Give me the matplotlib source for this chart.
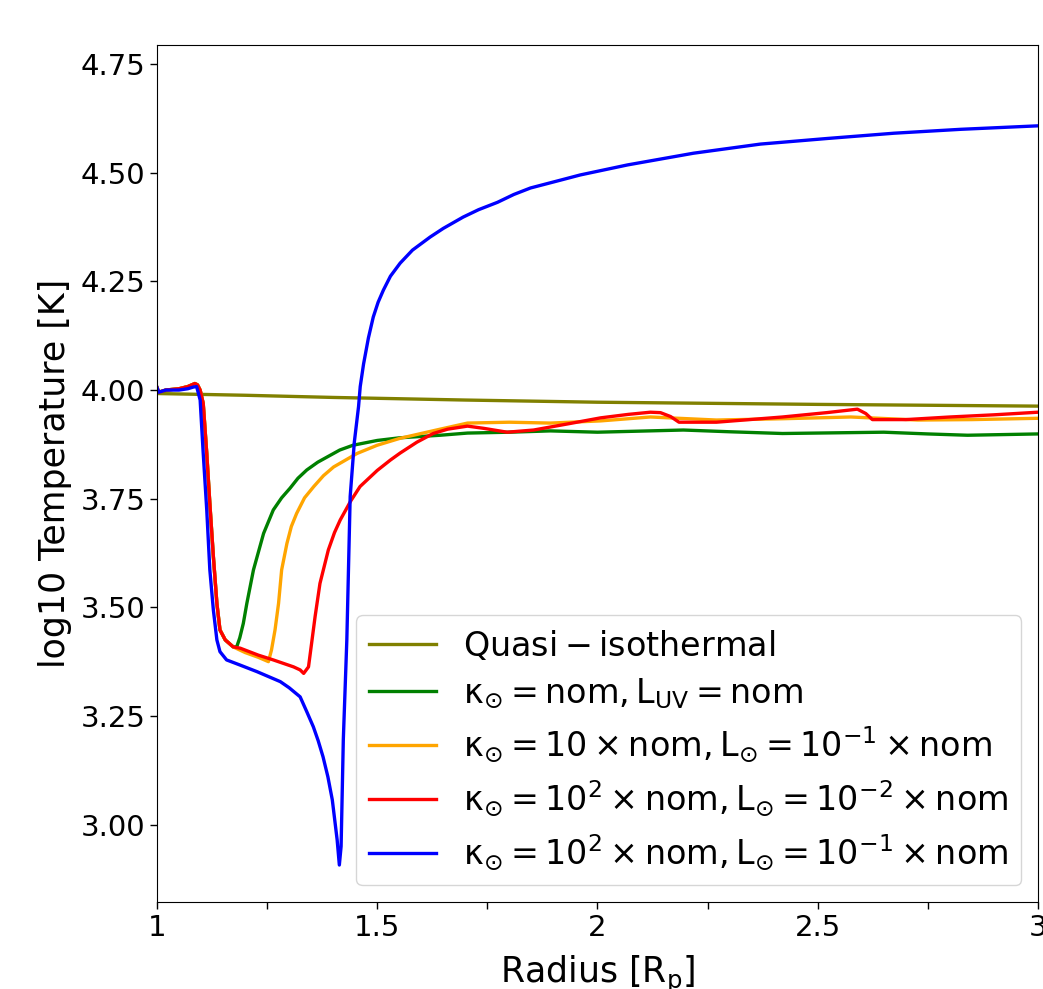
import numpy as np
import matplotlib
matplotlib.use('Agg')
import matplotlib.pyplot as plt

# ---- data ----
r_iso = [1.0, 1.2, 1.4, 1.7, 2.0, 2.5, 3.0]
t_iso = [3.992, 3.988, 3.983, 3.977, 3.972, 3.967, 3.963]

# common start (green / orange / red)
r_head = [1.0, 1.004, 1.02, 1.05, 1.07, 1.086, 1.092, 1.098, 1.105, 1.113, 1.12,
          1.128, 1.136, 1.143, 1.155, 1.173]
t_head = [4.006, 3.995, 4.0, 4.003, 4.008, 4.015, 4.012, 4.0, 3.969, 3.854, 3.739,
          3.617, 3.509, 3.448, 3.425, 3.409]

r_green = r_head + [1.181, 1.188, 1.196, 1.204, 1.219, 1.242, 1.264, 1.283, 1.302, 1.32,
                    1.34, 1.365, 1.39, 1.415, 1.445, 1.5, 1.55, 1.643, 1.705, 1.8, 1.893,
                    2.0, 2.195, 2.3, 2.42, 2.65, 2.75, 2.84, 3.0]
t_green = t_head + [3.409, 3.43, 3.463, 3.509, 3.586, 3.67, 3.724, 3.752, 3.774, 3.797,
                    3.816, 3.834, 3.848, 3.862, 3.873, 3.884, 3.89, 3.896, 3.901, 3.903,
                    3.906, 3.903, 3.908, 3.904, 3.900, 3.903, 3.899, 3.896, 3.899]

r_orange = r_head + [1.2, 1.23, 1.253, 1.26, 1.268, 1.276, 1.283, 1.295, 1.305, 1.317,
                     1.335, 1.356, 1.378, 1.401, 1.454, 1.5, 1.552, 1.643, 1.705, 1.8,
                     1.893, 2.007, 2.12, 2.27, 2.42, 2.575, 2.727, 2.85, 3.0]
t_orange = t_head + [3.396, 3.385, 3.375, 3.402, 3.448, 3.509, 3.586, 3.647, 3.686, 3.716,
                     3.752, 3.778, 3.803, 3.823, 3.854, 3.873, 3.889, 3.91, 3.924, 3.926,
                     3.924, 3.929, 3.938, 3.931, 3.934, 3.938, 3.931, 3.932, 3.935]

r_red = r_head + [1.189, 1.23, 1.264, 1.31, 1.325, 1.333, 1.344, 1.351, 1.359, 1.37,
                  1.389, 1.403, 1.416, 1.44, 1.461, 1.5, 1.53, 1.552, 1.59, 1.627, 1.66,
                  1.705, 1.741, 1.795, 1.855, 1.932, 2.007, 2.07, 2.12, 2.143, 2.166,
                  2.185, 2.27, 2.42, 2.52, 2.59, 2.609, 2.624, 2.70, 2.80, 2.9, 3.0]
t_red = t_head + [3.406, 3.39, 3.379, 3.363, 3.356, 3.348, 3.363, 3.417, 3.479, 3.555,
                  3.632, 3.672, 3.701, 3.745, 3.778, 3.815, 3.839, 3.855, 3.88, 3.90,
                  3.91, 3.917, 3.912, 3.903, 3.908, 3.922, 3.936, 3.944, 3.949, 3.948,
                  3.939, 3.926, 3.926, 3.938, 3.948, 3.956, 3.946, 3.932, 3.932, 3.938,
                  3.943, 3.949]

r_blue = [1.0, 1.004, 1.02, 1.05, 1.07, 1.083, 1.09, 1.098, 1.105, 1.113, 1.12, 1.128,
          1.136, 1.143, 1.158, 1.189, 1.227, 1.28, 1.3, 1.325, 1.34, 1.355, 1.366, 1.377,
          1.388, 1.398, 1.409, 1.414, 1.418, 1.423, 1.431, 1.4386, 1.448, 1.4576, 1.4614,
          1.469, 1.48, 1.491, 1.502, 1.514, 1.53, 1.552, 1.58, 1.62, 1.65, 1.695, 1.73,
          1.773, 1.81, 1.848, 1.916, 1.961, 2.068, 2.218, 2.37, 2.523, 2.673, 2.825, 3.0]
t_blue = [4.006, 3.995, 4.0, 4.0, 4.003, 4.007, 4.008, 3.977, 3.854, 3.724, 3.586, 3.494,
          3.425, 3.398, 3.379, 3.367, 3.352, 3.329, 3.315, 3.294, 3.26, 3.225, 3.193, 3.156,
          3.11, 3.057, 2.965, 2.907, 2.95, 3.195, 3.425, 3.755, 3.88, 3.962, 4.008,
          4.06, 4.12, 4.168, 4.202, 4.23, 4.262, 4.292, 4.322, 4.352, 4.372, 4.398, 4.415,
          4.432, 4.45, 4.465, 4.483, 4.495, 4.518, 4.545, 4.566, 4.579, 4.591, 4.60, 4.608]

labels = [r'$\rm Quasi-isothermal$',
          r'$\kappa_{\odot} = nom, L_{UV} = nom$',
          r'$\kappa_{\odot} = 10 \times nom, L_{\odot} = 10^{-1} \times nom$',
          r'$\kappa_{\odot} = 10^{2} \times nom, L_{\odot} = 10^{-2} \times nom$',
          r'$\kappa_{\odot} = 10^{2} \times nom, L_{\odot} = 10^{-1} \times nom$']
colors = ['olive', 'green', 'orange', 'red', 'blue']

x_ticks = [1, 1.25, 1.5, 1.75, 2, 2.25, 2.5, 2.75, 3]
x_tick_labels = ['1', '', '1.5', '', '2', '', '2.5', '', '3']
y_ticks = [3.00, 3.25, 3.50, 3.75, 4.00, 4.25, 4.50, 4.75]

# ---- plot ----
plt.rcParams['mathtext.default'] = 'regular'
plt.rcParams['font.family'] = ['DejaVu Sans']

fig = plt.figure(figsize=(10.43, 9.89), dpi=100)
ax = fig.add_axes([0.1505, 0.088, 0.8447, 0.8665])

series = [(r_iso, t_iso), (r_green, t_green), (r_orange, t_orange),
          (r_red, t_red), (r_blue, t_blue)]
for (r, t), c, lab in zip(series, colors, labels):
    ax.plot(r, t, color=c, lw=2.4, label=lab)

ax.set_xlim(1, 3)
ax.set_ylim(2.822, 4.794)
ax.set_xticks(x_ticks)
ax.set_xticklabels(x_tick_labels)
ax.set_yticks(y_ticks)
ax.set_yticklabels([f'{v:.2f}' for v in y_ticks])
ax.tick_params(labelsize=21, length=5, width=1)

ax.set_xlabel(r'Radius $[R_p]$', fontsize=25, labelpad=9)
ax.set_ylabel('log10 Temperature [K]', fontsize=25, labelpad=6)

ax.legend(loc='lower right', fontsize=24, handlelength=2.0, labelspacing=0.42)

fig.savefig('out.png', dpi=100)
